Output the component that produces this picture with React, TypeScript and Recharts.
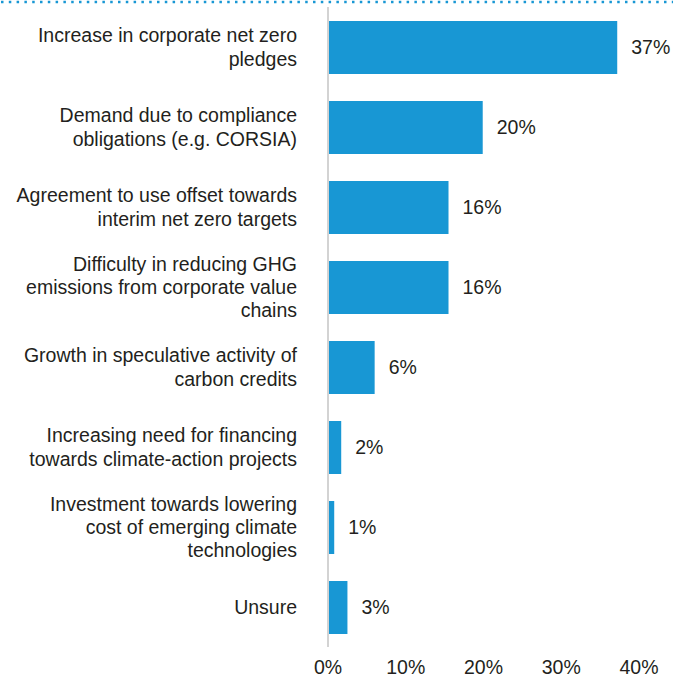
import { BarChart, Bar, XAxis, YAxis, LabelList } from 'recharts';

// survey answers, line breaks as in the source graphic
const categories = [
  'Increase in corporate net zero\npledges',
  'Demand due to compliance\nobligations (e.g. CORSIA)',
  'Agreement to use offset towards\ninterim net zero targets',
  'Difficulty in reducing GHG\nemissions from corporate value\nchains',
  'Growth in speculative activity of\ncarbon credits',
  'Increasing need for financing\ntowards climate-action projects',
  'Investment towards lowering\ncost of emerging climate\ntechnologies',
  'Unsure',
];
const shares = [37.2, 19.9, 15.5, 15.5, 6.0, 1.7, 0.8, 2.5];
const shareLabels = ['37%', '20%', '16%', '16%', '6%', '2%', '1%', '3%'];
const xTicks = [0, 10, 20, 30, 40];

const data = categories.map((name, i) => ({ name, value: shares[i], label: shareLabels[i] }));

const FONT = '"Liberation Sans", Arial, sans-serif';
const TEXT = '#231f20';
const BLUE = '#1897d4';

const CategoryTick = (props: any) => {
  const { x, y, payload } = props;
  const lines: string[] = String(payload.value).split('\n');
  const n = lines.length;
  const tx = x - 23;
  return (
    <text x={tx} y={y} textAnchor="end" fontSize={19.5} fontFamily={FONT} fill={TEXT}>
      {lines.map((l, j) => (
        <tspan key={j} x={tx} y={y + (j - (n - 1) / 2) * 23.3} dy="0.36em">
          {l}
        </tspan>
      ))}
    </text>
  );
};

export default function App() {
  return (
    <div style={{ position: 'absolute', left: 0, top: 0, width: 673, height: 677 }}>
      <svg width={673} height={6} style={{ position: 'absolute', left: 0, top: 0 }}>
        <line x1={1} y1={2} x2={673} y2={2} stroke={BLUE} strokeWidth={2.5} strokeDasharray="2.5 5.3" />
      </svg>
      <BarChart
        width={673}
        height={677}
        data={data}
        layout="vertical"
        margin={{ top: 7, right: 34, bottom: 0, left: 0 }}
      >
        <XAxis
          type="number"
          domain={[0, 40]}
          ticks={xTicks}
          tickFormatter={(v: number) => `${v}%`}
          axisLine={false}
          tickLine={false}
          tickSize={0}
          tickMargin={13}
          height={30}
          interval={0}
          tick={{ fontSize: 19.5, fontFamily: FONT, fill: TEXT }}
        />
        <YAxis
          type="category"
          dataKey="name"
          width={328}
          axisLine={{ stroke: '#d3d3d3', strokeWidth: 2 }}
          tickLine={false}
          interval={0}
          tick={<CategoryTick />}
        />
        <Bar dataKey="value" fill={BLUE} barSize={53} isAnimationActive={false}>
          <LabelList
            dataKey="label"
            position="right"
            offset={14}
            fontSize={19.5}
            fontFamily={FONT}
            fill={TEXT}
          />
        </Bar>
      </BarChart>
    </div>
  );
}
